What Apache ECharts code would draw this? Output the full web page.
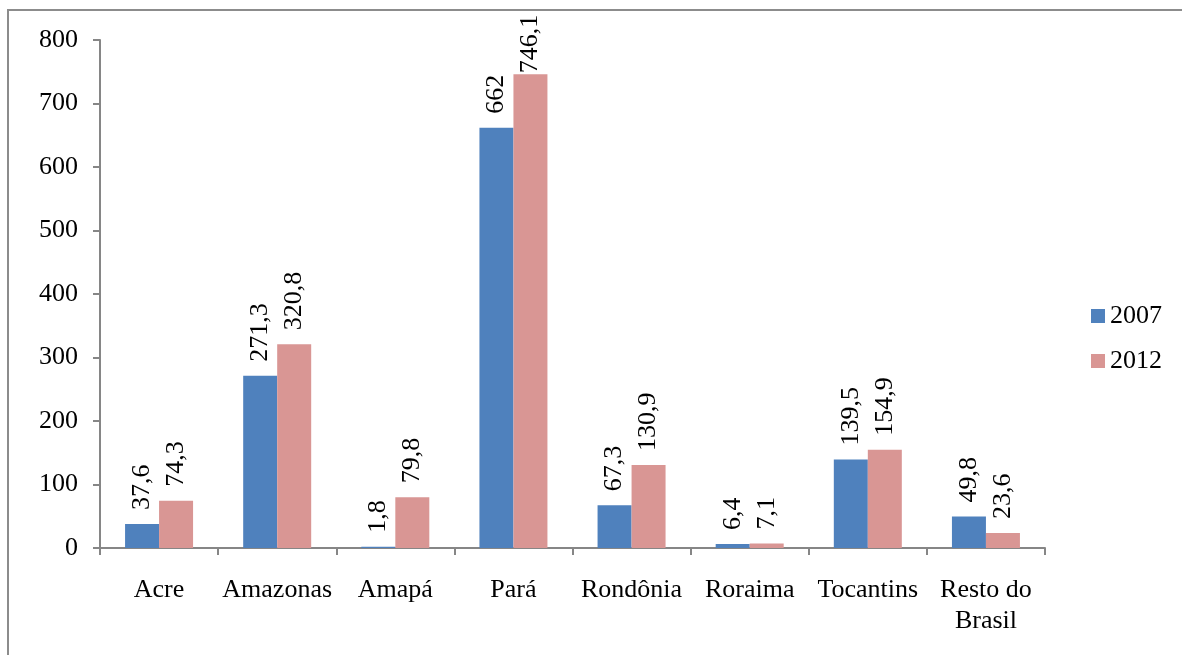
<!DOCTYPE html>
<html>
<head>
<meta charset="utf-8">
<script src="https://cdn.jsdelivr.net/npm/echarts@6/dist/echarts.min.js"></script>
<style>
  html, body { margin: 0; padding: 0; background: #ffffff; }
  #chart { width: 1182px; height: 655px; }
</style>
</head>
<body>
<div id="chart"></div>
<script>
// Estados da Amazônia Legal e restante do país
const categories = ['Acre', 'Amazonas', 'Amapá', 'Pará', 'Rondônia', 'Roraima', 'Tocantins', 'Resto do\nBrasil'];
const values2007 = [37.6, 271.3, 1.8, 662, 67.3, 6.4, 139.5, 49.8];
const values2012 = [74.3, 320.8, 79.8, 746.1, 130.9, 7.1, 154.9, 23.6];
const seriesNames = ['2007', '2012'];
const yTicks = { min: 0, max: 800, interval: 100 };

const FONT = '"Liberation Serif", "Times New Roman", serif';
const FS = 26;
const fmt = v => String(v).replace('.', ',');

const barLabel = {
  show: true,
  position: 'top',
  rotate: 90,
  align: 'left',
  verticalAlign: 'middle',
  distance: 14,
  fontFamily: FONT,
  fontSize: FS,
  color: '#000',
  formatter: p => fmt(p.value)
};

// labels that would run past the top of the plot are pulled down onto the bar
const toItems = arr => arr.map(v => v > 700 ? { value: v, label: { distance: 1 } } : v);

const chart = echarts.init(document.getElementById('chart'));
chart.setOption({
  animation: false,
  backgroundColor: '#ffffff',
  graphic: [{
    type: 'rect',
    shape: { x: 8, y: 10, width: 1300, height: 800 },
    style: { fill: 'none', stroke: '#8c8c8c', lineWidth: 2 },
    silent: true,
    z: -1
  }],
  grid: { left: 100, right: 137, top: 40, bottom: 107 },
  legend: {
    orient: 'vertical',
    left: 1086,
    top: 298,
    itemWidth: 14,
    itemHeight: 14,
    itemGap: 19,
    icon: 'rect',
    textStyle: { fontFamily: FONT, fontSize: FS, lineHeight: 26, color: '#000' },
    data: seriesNames
  },
  xAxis: {
    type: 'category',
    data: categories,
    axisLine: { lineStyle: { color: '#868686', width: 2 } },
    axisTick: { show: true, length: 7, lineStyle: { color: '#868686', width: 2 } },
    axisLabel: {
      fontFamily: FONT, fontSize: FS, color: '#000', margin: 27,
      lineHeight: 31, interval: 0
    },
    splitLine: { show: false }
  },
  yAxis: {
    type: 'value',
    min: yTicks.min,
    max: yTicks.max,
    interval: yTicks.interval,
    axisLine: { show: true, lineStyle: { color: '#868686', width: 2 } },
    axisTick: { show: true, length: 7, lineStyle: { color: '#868686', width: 2 } },
    axisLabel: { fontFamily: FONT, fontSize: FS, color: '#000', margin: 22 },
    splitLine: { show: false }
  },
  series: [
    {
      name: seriesNames[0],
      type: 'bar',
      data: toItems(values2007),
      barWidth: 34,
      barGap: '0%',
      itemStyle: { color: '#4F81BD' },
      label: barLabel
    },
    {
      name: seriesNames[1],
      type: 'bar',
      data: toItems(values2012),
      barWidth: 34,
      barGap: '0%',
      itemStyle: { color: '#D99694' },
      label: barLabel
    }
  ]
});
</script>
</body>
</html>
